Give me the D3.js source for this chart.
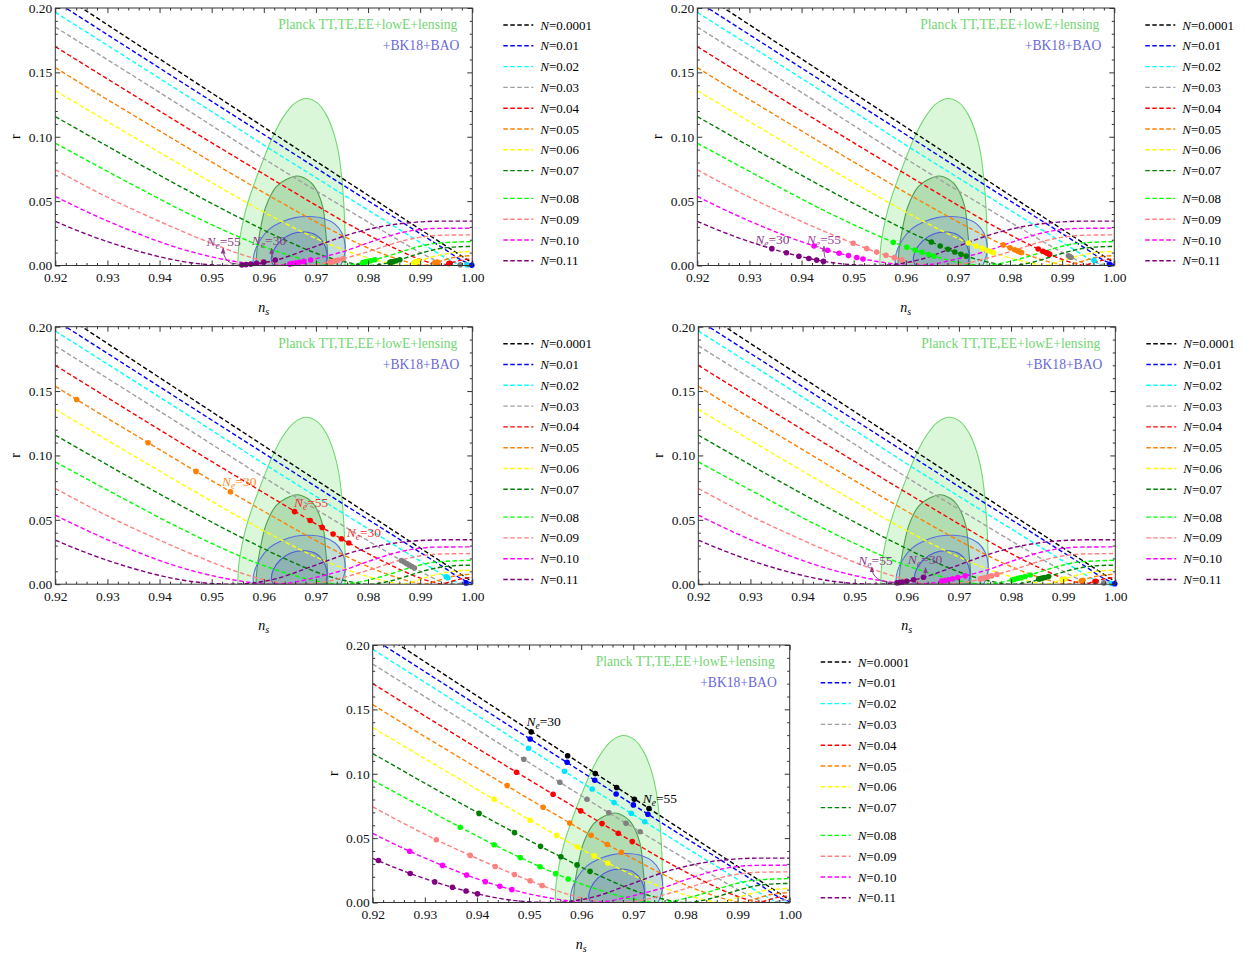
<!DOCTYPE html>
<html>
<head>
<meta charset="utf-8">
<script src="https://cdn.jsdelivr.net/npm/d3@7"></script>
<style>
body { margin: 0; background: #fff; }
</style>
</head>
<body>
<svg id="chart" width="1245" height="954"></svg>
<script>
// legend values and colours of the twelve N curves
const nValues = ["0.0001", "0.01", "0.02", "0.03", "0.04", "0.05", "0.06", "0.07", "0.08", "0.09", "0.10", "0.11"];
const lineColors = ["#000000", "#0000ff", "#00ffff", "#a0a0a0", "#ff0000", "#ff8000", "#ffff00", "#008000", "#00ff00", "#ff8080", "#ff00ff", "#800080"];
const dotColors = ["#000000", "#0000ff", "#00e5ff", "#808080", "#ff0000", "#ff8000", "#ffff00", "#008000", "#00ff00", "#ff8080", "#ff00ff", "#800080"];
const labelColors = ["#000000", "#0000ff", "#00ffff", "#808080", "#f03030", "#ff8a20", "#d0d000", "#008000", "#00cc00", "#ff8080", "#a040a8", "#8a3a8a"];
const xTicks = [0.92, 0.93, 0.94, 0.95, 0.96, 0.97, 0.98, 0.99, 1.00];
const yTicks = [0.00, 0.05, 0.10, 0.15, 0.20];

// dashed curves, [n_s, r]
const curveN0001 = [[0.92,0.2135],[0.95,0.134],[0.975,0.0678],[0.99,0.0281],[0.997,0.0098],[1.0,0.002]];
const curveN01 = [[0.92,0.2052],[0.9502,0.127],[0.9626,0.095],[0.9728,0.0686],[0.985,0.0375],[0.994,0.0145],[0.9985,0.003],[1.0,0.0006]];
const curveN02 = [[0.92,0.1966],[0.9499,0.1198],[0.9568,0.1019],[0.9621,0.0882],[0.9663,0.0776],[0.9722,0.0627],[0.984,0.0330],[0.9925,0.0118],[0.9955,0.0045],[0.998,0.0003],[0.999,0.0],[1.0,0.0012]];
const curveN03 = [[0.92,0.1852],[0.949,0.1113],[0.9559,0.0934],[0.9611,0.0802],[0.9653,0.0697],[0.9713,0.0550],[0.9818,0.0294],[0.9864,0.0184],[0.9889,0.0126],[0.9915,0.0068],[0.9945,0.0012],[0.9962,0.0],[0.9985,0.0016],[1.0,0.0027]];
const curveN04 = [[0.92,0.1700],[0.9476,0.1012],[0.9546,0.0841],[0.9599,0.0712],[0.9640,0.0613],[0.9698,0.0473],[0.9733,0.0390],[0.9763,0.0320],[0.981,0.0217],[0.9854,0.0128],[0.9876,0.0087],[0.9905,0.0040],[0.9928,0.0012],[0.9942,0.0],[0.9956,0.0017],[0.998,0.0042],[1.0,0.0052]];
const curveN05 = [[0.92,0.1537],[0.9241,0.1434],[0.9378,0.1099],[0.9470,0.0876],[0.9536,0.0718],[0.9578,0.0618],[0.9619,0.0522],[0.9650,0.0451],[0.9677,0.0390],[0.9730,0.0275],[0.9787,0.0160],[0.9822,0.0100],[0.9865,0.0040],[0.989,0.0012],[0.9905,0.0],[0.9930,0.0023],[0.996,0.0058],[1.0,0.0078]];
const curveN06 = [[0.92,0.1358],[0.9433,0.0801],[0.9502,0.0639],[0.9553,0.0521],[0.9593,0.0431],[0.9625,0.0362],[0.9651,0.0307],[0.972,0.0175],[0.9768,0.0100],[0.981,0.0048],[0.9845,0.0014],[0.9866,0.0],[0.9888,0.0023],[0.9897,0.0034],[0.9925,0.0068],[0.996,0.0098],[1.0,0.0109]];
const curveN07 = [[0.92,0.1157],[0.9404,0.0692],[0.9472,0.0543],[0.9522,0.0436],[0.9561,0.0355],[0.9592,0.0292],[0.9617,0.0242],[0.9649,0.0183],[0.9681,0.0126],[0.9716,0.0073],[0.9765,0.0020],[0.980,0.0],[0.9842,0.0024],[0.9861,0.0045],[0.989,0.0082],[0.993,0.0125],[0.997,0.0145],[1.0,0.0148]];
const curveN08 = [[0.92,0.0950],[0.9368,0.0585],[0.9433,0.0448],[0.9483,0.0349],[0.9521,0.0278],[0.9551,0.0224],[0.9575,0.0183],[0.9602,0.0142],[0.9631,0.0102],[0.9654,0.0073],[0.970,0.0025],[0.975,0.0],[0.979,0.0022],[0.9813,0.0045],[0.9837,0.0072],[0.987,0.0115],[0.993,0.0172],[1.0,0.0186]];
const curveN09 = [[0.92,0.0743],[0.9322,0.0487],[0.9387,0.0366],[0.9435,0.0280],[0.9472,0.0217],[0.9502,0.0168],[0.9525,0.0132],[0.9544,0.0104],[0.9592,0.0044],[0.9635,0.0008],[0.9665,0.0],[0.9726,0.0025],[0.9752,0.0052],[0.9775,0.0078],[0.981,0.012],[0.987,0.0195],[0.994,0.0235],[1.0,0.0238]];
const curveN10 = [[0.92,0.0536],[0.9271,0.0398],[0.9334,0.0288],[0.9380,0.0214],[0.9416,0.0162],[0.9444,0.0126],[0.9467,0.0100],[0.951,0.0058],[0.9555,0.0025],[0.9615,0.0],[0.965,0.0010],[0.969,0.0043],[0.9712,0.0065],[0.975,0.0105],[0.981,0.019],[0.987,0.026],[0.993,0.0288],[1.0,0.029]];
const curveN11 = [[0.92,0.0342],[0.9272,0.0225],[0.9319,0.0160],[0.9353,0.0118],[0.9379,0.0089],[0.9401,0.0067],[0.9432,0.0040],[0.948,0.0012],[0.954,0.0],[0.9625,0.0044],[0.969,0.0135],[0.9772,0.0251],[0.9836,0.031],[0.9893,0.0337],[0.995,0.0345],[1.0,0.0345]];
const curves = [curveN0001, curveN01, curveN02, curveN03, curveN04, curveN05, curveN06, curveN07, curveN08, curveN09, curveN10, curveN11];

// Planck / BK18 contours
const planckOuter = [[0.9550,0.0],[0.9552,0.015],[0.9558,0.030],[0.9568,0.047],[0.9582,0.064],[0.9598,0.081],[0.9616,0.099],[0.9636,0.1145],[0.9658,0.1255],[0.9680,0.1297],[0.9702,0.1265],[0.9720,0.117],[0.9734,0.103],[0.9744,0.086],[0.9750,0.066],[0.9754,0.044],[0.9756,0.022],[0.9756,0.0]];
const planckInner = [[0.9585,0.0],[0.9587,0.012],[0.9592,0.025],[0.9604,0.0458],[0.9624,0.0613],[0.9643,0.0668],[0.9664,0.0695],[0.9684,0.0665],[0.9697,0.0613],[0.9713,0.0458],[0.9719,0.025],[0.9722,0.012],[0.9723,0.0]];
const bkOuter = [[0.9580,0.002],[0.9582,0.010],[0.9592,0.019],[0.9610,0.028],[0.9635,0.034],[0.9660,0.0372],[0.9688,0.038],[0.9715,0.0365],[0.9737,0.032],[0.9750,0.025],[0.9756,0.016],[0.9754,0.007],[0.9744,-0.002],[0.9720,-0.009],[0.9670,-0.012],[0.9620,-0.009],[0.9590,-0.004]];
const bkInner = [[0.9615,0.003],[0.9618,0.011],[0.9632,0.019],[0.9653,0.0245],[0.9678,0.026],[0.9700,0.0238],[0.9714,0.018],[0.9721,0.010],[0.9719,0.002],[0.9705,-0.005],[0.9665,-0.008],[0.9630,-0.004]];

// dots per panel: [curve index, n_s, r]
const dotsP1 = [
  [11,0.9622,0.0043],[11,0.9600,0.0026],[11,0.9586,0.0017],[11,0.9575,0.0011],[11,0.9566,0.0007],[11,0.9558,0.0004],
  [10,0.9690,0.0043],[10,0.9677,0.0032],[10,0.9668,0.0025],[10,0.9661,0.0019],[10,0.9655,0.0015],[10,0.9650,0.0011],
  [9,0.9752,0.0052],[9,0.9743,0.0042],[9,0.9737,0.0036],[9,0.9733,0.0032],[9,0.9729,0.0028],[9,0.9726,0.0025],
  [8,0.9813,0.0045],[8,0.9805,0.0037],[8,0.9800,0.0032],[8,0.9796,0.0028],[8,0.9793,0.0025],[8,0.9790,0.0022],
  [7,0.9861,0.0045],[7,0.9854,0.0037],[7,0.9849,0.0031],[7,0.9846,0.0028],[7,0.9844,0.0026],[7,0.9842,0.0024],
  [6,0.9897,0.0034],[6,0.9893,0.0029],[6,0.9890,0.0026],[6,0.9888,0.0023],
  [5,0.9933,0.0026],[5,0.9930,0.0023],[5,0.9928,0.0021],
  [4,0.9957,0.0018],[4,0.9955,0.0016],
  [3,0.9977,0.0006],[2,0.9990,0.0004],[1,0.9999,0.0002]
];
const dotsP2 = [
  [11,0.9343,0.0131],[11,0.9371,0.0099],[11,0.9395,0.0072],[11,0.9414,0.0054],[11,0.9429,0.0042],[11,0.9442,0.0032],
  [10,0.9424,0.0152],[10,0.9450,0.0119],[10,0.9472,0.0095],[10,0.9490,0.0077],[10,0.9506,0.0062],[10,0.9518,0.0051],
  [9,0.9499,0.0173],[9,0.9525,0.0132],[9,0.9544,0.0104],[9,0.9562,0.0080],[9,0.9578,0.0061],[9,0.9592,0.0044],
  [8,0.9576,0.0181],[8,0.9602,0.0142],[8,0.9618,0.0120],[8,0.9631,0.0102],[8,0.9644,0.0086],[8,0.9654,0.0073],
  [7,0.9649,0.0183],[7,0.9666,0.0152],[7,0.9681,0.0126],[7,0.9694,0.0105],[7,0.9706,0.0087],[7,0.9716,0.0073],
  [6,0.9720,0.0175],[6,0.9735,0.0152],[6,0.9747,0.0133],[6,0.9756,0.0119],[6,0.9763,0.0109],[6,0.9768,0.0100],
  [5,0.9787,0.0160],[5,0.9800,0.0137],[5,0.9809,0.0122],[5,0.9815,0.0112],[5,0.9819,0.0105],[5,0.9822,0.0100],
  [4,0.9854,0.0128],[4,0.9863,0.0111],[4,0.9869,0.0100],[4,0.9872,0.0094],[4,0.9874,0.0091],[4,0.9876,0.0087],
  [3,0.9912,0.0075],[3,0.9915,0.0068],[3,0.9917,0.0064],
  [2,0.9961,0.0040],[1,0.9991,0.0010]
];
const dotsP3 = [
  [5,0.9536,0.0718],[5,0.9470,0.0876],[5,0.9378,0.1099],[5,0.9241,0.1434],
  [4,0.9763,0.0320],[4,0.9749,0.0353],[4,0.9733,0.0390],[4,0.9712,0.0441],[4,0.9689,0.0495],[4,0.9659,0.0564],
  [3,0.9889,0.0126],[3,0.9884,0.0137],[3,0.9879,0.0148],[3,0.9874,0.0160],[3,0.9869,0.0172],[3,0.9864,0.0184],
  [2,0.9950,0.0057],[2,0.9953,0.0050],[1,0.9988,0.0010]
];
const dotsP4 = [
  [11,0.9632,0.0054],[11,0.9613,0.0034],[11,0.9600,0.0023],[11,0.9591,0.0017],[11,0.9585,0.0013],[11,0.9581,0.0011],
  [10,0.9712,0.0065],[10,0.9698,0.0052],[10,0.9688,0.0042],[10,0.9680,0.0035],[10,0.9673,0.0029],[10,0.9667,0.0024],
  [9,0.9773,0.0076],[9,0.9763,0.0065],[9,0.9756,0.0057],[9,0.9750,0.0050],[9,0.9745,0.0045],[9,0.9741,0.0041],
  [8,0.9837,0.0072],[8,0.9827,0.0060],[8,0.9819,0.0051],[8,0.9813,0.0045],[8,0.9807,0.0039],[8,0.9802,0.0033],
  [7,0.9872,0.0060],[7,0.9865,0.0052],[7,0.9860,0.0047],[7,0.9857,0.0044],[7,0.9855,0.0042],[7,0.9853,0.0040],
  [6,0.9903,0.0040],[6,0.9900,0.0036],[6,0.9898,0.0034],
  [5,0.9938,0.0030],[5,0.9935,0.0027],
  [4,0.9963,0.0023],[4,0.9961,0.0021],
  [3,0.9978,0.0010],[2,0.9993,0.0006],[1,0.9999,0.0003]
];
const dotsP5 = [
  [0,0.9504,0.1325],[0,0.9574,0.1140],[0,0.9627,0.1001],[0,0.9668,0.0893],[0,0.9702,0.0802],[0,0.9730,0.0730],
  [1,0.9502,0.1270],[1,0.9573,0.1089],[1,0.9626,0.0950],[1,0.9667,0.0843],[1,0.9700,0.0758],[1,0.9728,0.0686],
  [2,0.9499,0.1198],[2,0.9568,0.1019],[2,0.9621,0.0882],[2,0.9663,0.0776],[2,0.9696,0.0693],[2,0.9722,0.0627],
  [3,0.9490,0.1113],[3,0.9559,0.0934],[3,0.9611,0.0802],[3,0.9653,0.0697],[3,0.9686,0.0616],[3,0.9713,0.0550],
  [4,0.9476,0.1012],[4,0.9546,0.0841],[4,0.9599,0.0712],[4,0.9640,0.0613],[4,0.9671,0.0538],[4,0.9698,0.0473],
  [5,0.9458,0.0908],[5,0.9527,0.0740],[5,0.9578,0.0618],[5,0.9619,0.0522],[5,0.9650,0.0451],[5,0.9677,0.0390],
  [6,0.9433,0.0801],[6,0.9502,0.0639],[6,0.9553,0.0521],[6,0.9593,0.0431],[6,0.9625,0.0362],[6,0.9651,0.0307],
  [7,0.9404,0.0692],[7,0.9472,0.0543],[7,0.9522,0.0436],[7,0.9561,0.0355],[7,0.9592,0.0292],[7,0.9617,0.0242],
  [8,0.9368,0.0585],[8,0.9433,0.0448],[8,0.9483,0.0349],[8,0.9521,0.0278],[8,0.9551,0.0224],[8,0.9575,0.0183],
  [9,0.9322,0.0487],[9,0.9387,0.0366],[9,0.9435,0.0280],[9,0.9472,0.0217],[9,0.9502,0.0168],[9,0.9525,0.0132],
  [10,0.9271,0.0398],[10,0.9334,0.0288],[10,0.9380,0.0214],[10,0.9416,0.0162],[10,0.9444,0.0126],[10,0.9467,0.0100],
  [11,0.9211,0.0326],[11,0.9272,0.0225],[11,0.9319,0.0160],[11,0.9353,0.0118],[11,0.9379,0.0089],[11,0.9401,0.0067]
];

// N_e labels: [colour index, n_s, r, N_e] and arrows: [colour index, n_s from, r from, n_s to, r to]
const notesP1 = [[11,0.9490,0.0153,55],[11,0.9577,0.0160,30]];
const arrowsP1 = [[11,0.9548,0.0012,0.9522,0.0135],[11,0.9618,0.0060,0.9615,0.0133]];
const notesP2 = [[11,0.9311,0.0168,30],[10,0.9410,0.0168,55]];
const arrowsP2 = [[10,0.9446,0.0060,0.9443,0.0150]];
const notesP3 = [[5,0.9520,0.0766,30],[4,0.9658,0.0602,55],[4,0.9759,0.0368,30]];
const arrowsP3 = [];
const notesP4 = [[11,0.9507,0.0150,55],[11,0.9602,0.0156,30]];
const arrowsP4 = [[11,0.9578,0.0012,0.9533,0.0133],[11,0.9634,0.0065,0.9636,0.0128]];
const notesP5 = [[0,0.9495,0.1370,30],[0,0.9718,0.0774,55]];
const arrowsP5 = [];

const svg = d3.select("#chart");
const W = 417, H = 257.5;
const serif = '"Liberation Serif","Times New Roman",serif';

const defs = svg.append("defs");
labelColors.forEach((c, k) => {
  defs.append("marker").attr("id", "ah" + k)
    .attr("viewBox", "0 0 10 10").attr("refX", 9).attr("refY", 5)
    .attr("markerWidth", 6).attr("markerHeight", 6).attr("orient", "auto")
    .append("path").attr("d", "M0,1L10,5L0,9Z").attr("fill", c);
});

const xMinor = d3.range(41).filter(i => i % 5 !== 0).map(i => 0.92 + i * 0.002);
const yMinor = d3.range(21).filter(i => i % 5 !== 0).map(i => i * 0.01);

function styleAxis(sel) {
  sel.select(".domain").remove();
  sel.attr("color", "#333");
  sel.selectAll("text").style("font-family", serif).style("font-size", "13.5px").attr("fill", "#111");
}

function drawPanel(px, py, dots, notes, arrows, idx) {
  const g = svg.append("g").attr("transform", `translate(${px},${py})`);
  const x = d3.scaleLinear().domain([0.92, 1.0]).range([0, W]);
  const y = d3.scaleLinear().domain([0, 0.2]).range([H, 0]);

  g.append("clipPath").attr("id", "clip" + idx)
    .append("rect").attr("width", W).attr("height", H);
  const plot = g.append("g").attr("clip-path", `url(#clip${idx})`);

  const openLine = d3.line().x(d => x(d[0])).y(d => y(d[1])).curve(d3.curveCatmullRom);
  const closedLine = d3.line().x(d => x(d[0])).y(d => y(d[1])).curve(d3.curveCatmullRomClosed);

  plot.append("path").attr("d", openLine(planckOuter) + "Z")
    .attr("fill", "rgba(120,225,120,0.27)").attr("stroke", "#6fd86f").attr("stroke-width", 1.1);
  plot.append("path").attr("d", openLine(planckInner) + "Z")
    .attr("fill", "rgba(60,145,60,0.26)").attr("stroke", "#4f9f4f").attr("stroke-width", 1.1);
  plot.append("path").attr("d", closedLine(bkOuter))
    .attr("fill", "rgba(80,100,200,0.17)").attr("stroke", "#5a6fe0").attr("stroke-width", 1.1);
  plot.append("path").attr("d", closedLine(bkInner))
    .attr("fill", "rgba(60,80,180,0.17)").attr("stroke", "#4a5ad8").attr("stroke-width", 1.1);

  const line = d3.line().x(d => x(d[0])).y(d => y(d[1])).curve(d3.curveMonotoneX);
  curves.forEach((c, i) => {
    plot.append("path").attr("d", line(c))
      .attr("fill", "none").attr("stroke", lineColors[i])
      .attr("stroke-width", 1.4).attr("stroke-dasharray", "4.5,2.5");
  });

  g.append("g").selectAll("circle").data(dots).join("circle")
    .attr("cx", d => x(d[1])).attr("cy", d => y(d[2])).attr("r", 2.8)
    .attr("fill", d => dotColors[d[0]]);

  arrows.forEach(a => {
    const x0 = x(a[1]), y0 = y(a[2]), x1 = x(a[3]), y1 = y(a[4]);
    g.append("path").attr("d", `M${x0},${y0}Q${x1},${y0} ${x1},${y1}`)
      .attr("fill", "none").attr("stroke", labelColors[a[0]]).attr("stroke-width", 1)
      .attr("marker-end", `url(#ah${a[0]})`);
  });

  notes.forEach(n => {
    const t = g.append("text").attr("x", x(n[1])).attr("y", y(n[2]))
      .attr("fill", labelColors[n[0]]).style("font-family", serif).style("font-size", "13.5px");
    t.append("tspan").style("font-style", "italic").text("N");
    t.append("tspan").style("font-style", "italic").style("font-size", "9.5px").attr("dy", 3).text("e");
    t.append("tspan").attr("dy", -3).text("=" + n[3]);
  });

  // frame and ticks on all sides
  g.append("g").attr("transform", `translate(0,${H})`)
    .call(d3.axisBottom(x).tickValues(xTicks).tickSize(-5).tickPadding(7).tickFormat(d3.format(".2f"))).call(styleAxis);
  g.append("g").attr("transform", `translate(0,${H})`)
    .call(d3.axisBottom(x).tickValues(xMinor).tickSize(-2.5).tickFormat("")).call(styleAxis);
  g.append("g").call(d3.axisTop(x).tickValues(xTicks).tickSize(-5).tickFormat("")).call(styleAxis);
  g.append("g").call(d3.axisTop(x).tickValues(xMinor).tickSize(-2.5).tickFormat("")).call(styleAxis);
  g.append("g").call(d3.axisLeft(y).tickValues(yTicks).tickSize(-5).tickPadding(3).tickFormat(d3.format(".2f"))).call(styleAxis);
  g.append("g").call(d3.axisLeft(y).tickValues(yMinor).tickSize(-2.5).tickFormat("")).call(styleAxis);
  g.append("g").attr("transform", `translate(${W},0)`)
    .call(d3.axisRight(y).tickValues(yTicks).tickSize(-5).tickFormat("")).call(styleAxis);
  g.append("g").attr("transform", `translate(${W},0)`)
    .call(d3.axisRight(y).tickValues(yMinor).tickSize(-2.5).tickFormat("")).call(styleAxis);
  g.append("rect").attr("width", W).attr("height", H)
    .attr("fill", "none").attr("stroke", "#333").attr("stroke-width", 1);

  // axis titles
  g.append("text").attr("transform", `translate(-40,${H / 2}) rotate(-90)`)
    .attr("text-anchor", "middle").attr("dy", "0.35em")
    .style("font-family", serif).style("font-size", "14px").text("r");
  const xt = g.append("text").attr("x", W / 2).attr("y", H + 46).attr("text-anchor", "middle")
    .style("font-family", serif).style("font-size", "14px");
  xt.append("tspan").style("font-style", "italic").text("n");
  xt.append("tspan").style("font-style", "italic").style("font-size", "10px").attr("dy", 3).text("s");

  // data set annotations
  g.append("text").attr("x", W - 15).attr("y", 21).attr("text-anchor", "end")
    .attr("fill", "#72d672").style("font-family", serif).style("font-size", "13.6px")
    .text("Planck TT,TE,EE+lowE+lensing");
  g.append("text").attr("x", W - 13).attr("y", 42).attr("text-anchor", "end")
    .attr("fill", "#6868dc").style("font-family", serif).style("font-size", "13.6px")
    .text("+BK18+BAO");

  // legend
  const lg = g.append("g").attr("transform", "translate(448,0)");
  nValues.forEach((v, i) => {
    const ly = 17 + i * 20.8 + (i >= 8 ? 7 : 0);
    lg.append("line").attr("x1", 0).attr("x2", 30).attr("y1", ly).attr("y2", ly)
      .attr("stroke", lineColors[i]).attr("stroke-width", 1.4).attr("stroke-dasharray", "4.5,2.5");
    const t = lg.append("text").attr("x", 37).attr("y", ly).attr("dy", "0.35em")
      .style("font-family", serif).style("font-size", "13px");
    t.append("tspan").style("font-style", "italic").text("N");
    t.append("tspan").text("=" + v);
  });
}

drawPanel(55.3, 8, dotsP1, notesP1, arrowsP1, 1);
drawPanel(697.3, 8, dotsP2, notesP2, arrowsP2, 2);
drawPanel(55.3, 326.7, dotsP3, notesP3, arrowsP3, 3);
drawPanel(698.3, 326.7, dotsP4, notesP4, arrowsP4, 4);
drawPanel(372.7, 645, dotsP5, notesP5, arrowsP5, 5);
</script>
</body>
</html>
